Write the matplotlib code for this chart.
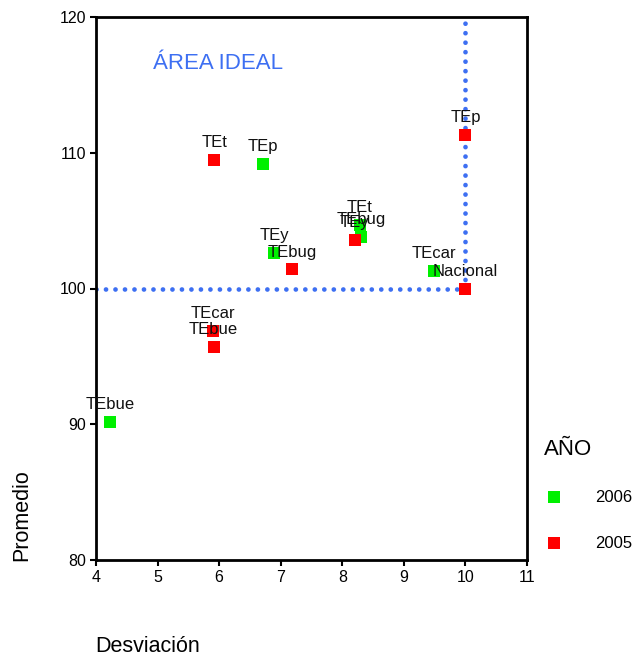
import matplotlib
matplotlib.use("Agg")
import matplotlib.pyplot as plt
from matplotlib.lines import Line2D

plt.rcParams['font.family'] = ['Liberation Sans', 'DejaVu Sans']

# 2006 series (green)
labels_2006 = ["TEp", "TEy", "TEt", "TEbug", "TEcar", "TEbue"]
x_2006 = [6.71, 6.89, 8.28, 8.30, 9.49, 4.23]
y_2006 = [109.2, 102.6, 104.7, 103.8, 101.3, 90.2]

# 2005 series (red)
labels_2005 = ["TEt", "TEp", "TEy", "TEbug", "Nacional", "TEcar", "TEbue"]
x_2005 = [5.92, 10.0, 8.20, 7.19, 10.0, 5.90, 5.91]
y_2005 = [109.5, 111.3, 103.6, 101.4, 100.0, 96.9, 95.7]

ref_x = 10
ref_y = 100
xlim = (4, 11)
ylim = (80, 120)
xticks = [4, 5, 6, 7, 8, 9, 10, 11]
yticks = [80, 90, 100, 110, 120]

green = '#00f000'
red = '#ff0000'
blue = '#3d6ff2'

fig = plt.figure(figsize=(6.37, 6.59), dpi=100)
ax = fig.add_axes([96/637, 1-560/659, (527-96)/637, (560-17)/659])

ax.plot([xlim[0], ref_x], [ref_y, ref_y], linestyle=(0, (0.01, 2.0)), color=blue,
        lw=3.4, dash_capstyle='round', zorder=1)
ax.plot([ref_x, ref_x], [ref_y, ylim[1]], linestyle=(0, (0.01, 2.0)), color=blue,
        lw=3.4, dash_capstyle='round', zorder=1)

ax.scatter(x_2006, y_2006, marker='s', s=85, color=green, zorder=3, linewidths=0)
ax.scatter(x_2005, y_2005, marker='s', s=85, color=red, zorder=3, linewidths=0)

for lab, x, y in zip(labels_2006, x_2006, y_2006):
    ax.annotate(lab, (x, y), xytext=(0, 7), textcoords='offset points',
                ha='center', va='bottom', fontsize=12, color='#111111', zorder=4)
for lab, x, y in zip(labels_2005, x_2005, y_2005):
    ax.annotate(lab, (x, y), xytext=(0, 7), textcoords='offset points',
                ha='center', va='bottom', fontsize=12, color='#111111', zorder=4)

ax.text(4.93, 116.6, "ÁREA IDEAL", color=blue, fontsize=16, ha='left', va='center')

ax.set_xlim(*xlim)
ax.set_ylim(*ylim)
ax.set_xticks(xticks)
ax.set_yticks(yticks)
ax.tick_params(direction='out', length=4, width=1.5, labelsize=11.5, pad=3)
for s in ax.spines.values():
    s.set_linewidth(2)

fig.text(148/637, 1-646/659, "Desviación", fontsize=15.5, ha='center', va='center')
fig.text(22/637, 1-515/659, "Promedio", fontsize=15.5, ha='center', va='center', rotation=90)

handles = [Line2D([], [], marker='s', linestyle='none', color=green, markersize=8.5, markeredgewidth=0),
           Line2D([], [], marker='s', linestyle='none', color=red, markersize=8.5, markeredgewidth=0)]
leg = fig.legend(handles, ["2006", "2005"], title="AÑO", loc='upper left',
                 bbox_to_anchor=(537/637, 1-432/659), frameon=False, fontsize=12,
                 title_fontsize=16, labelspacing=1.85, handletextpad=1.9,
                 borderaxespad=0, handlelength=1.2)
leg._legend_box.align = 'left'

fig.savefig("out.png", dpi=100)
